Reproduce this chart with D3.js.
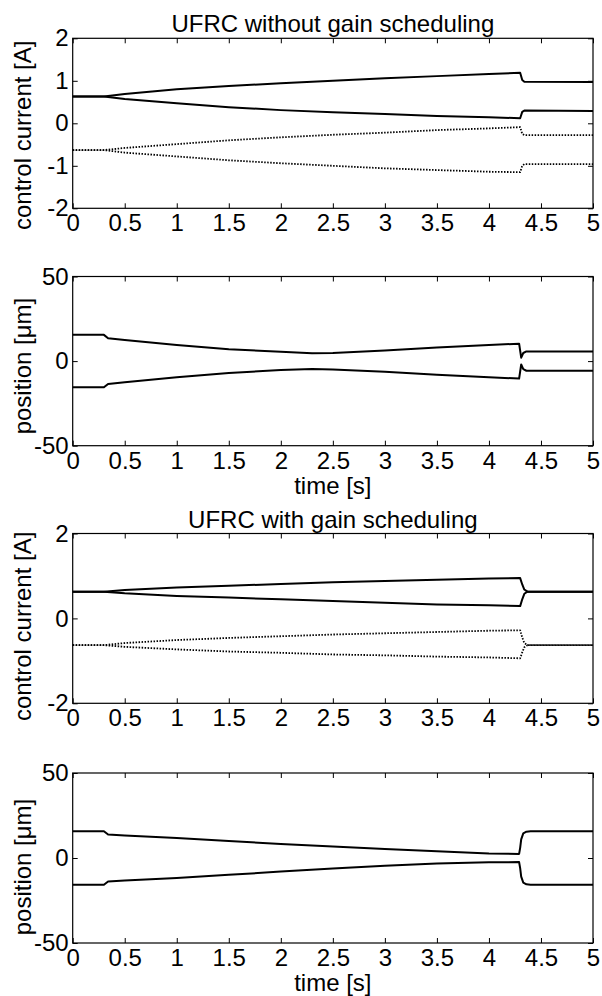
<!DOCTYPE html>
<html>
<head>
<meta charset="utf-8">
<script src="https://cdn.jsdelivr.net/npm/d3@7"></script>
<style>
  html, body { margin: 0; padding: 0; background: white; }
  svg { display: block; }
</style>
</head>
<body>
<div id="chart"></div>
<script>

var
  // tick labels shared by every panel
  TIME_TICKS = [0, 0.5, 1, 1.5, 2, 2.5, 3, 3.5, 4, 4.5, 5],
  CURRENT_TICKS_FINE = [-2, -1, 0, 1, 2],
  CURRENT_TICKS_COARSE = [-2, 0, 2],
  POSITION_TICKS = [-50, 0, 50],

  // panel 1: UFRC without gain scheduling, control currents [A]
  TIME_1 = [0, 0.3, 0.5, 1, 1.5, 2, 2.5, 3, 3.5, 4, 4.3, 4.32, 4.34, 5],
  CURRENT_1_A = [0.63, 0.63, 0.69, 0.80, 0.88, 0.94, 1.00, 1.06, 1.11, 1.16, 1.19, 1.02, 0.98, 0.97],
  CURRENT_1_B = [0.63, 0.63, 0.57, 0.47, 0.38, 0.31, 0.26, 0.22, 0.17, 0.14, 0.12, 0.27, 0.30, 0.29],
  CURRENT_1_C = [-0.63, -0.63, -0.58, -0.49, -0.40, -0.33, -0.27, -0.22, -0.16, -0.12, -0.09, -0.25, -0.28, -0.28],
  CURRENT_1_D = [-0.63, -0.63, -0.69, -0.78, -0.87, -0.94, -1.00, -1.06, -1.10, -1.14, -1.15, -1.00, -0.96, -0.96],

  // panel 2: UFRC without gain scheduling, position [um]
  TIME_2 = [0, 0.3, 0.34, 0.5, 1, 1.5, 2, 2.3, 2.5, 3, 3.5, 4, 4.29, 4.31, 4.33, 4.36, 5],
  POSITION_2_A = [15.5, 15.5, 13.5, 12.5, 9.5, 7, 5.5, 4.6, 4.8, 6.3, 8, 9.5, 10.3, 2.0, 4.8, 5.7, 5.7],
  POSITION_2_B = [-15.5, -15.5, -13.5, -12.5, -9.5, -7, -5.3, -4.6, -4.9, -6.3, -8, -9.6, -10.3, -2.0, -4.8, -5.7, -5.7],

  // panel 3: UFRC with gain scheduling, control currents [A]
  TIME_3 = [0, 0.3, 0.5, 1, 1.5, 2, 2.5, 3, 3.5, 4, 4.3, 4.32, 4.34, 4.37, 5],
  CURRENT_3_A = [0.63, 0.63, 0.67, 0.73, 0.77, 0.81, 0.85, 0.88, 0.91, 0.94, 0.95, 0.80, 0.68, 0.63, 0.63],
  CURRENT_3_B = [0.63, 0.63, 0.59, 0.53, 0.49, 0.45, 0.41, 0.37, 0.33, 0.31, 0.29, 0.45, 0.58, 0.63, 0.63],
  CURRENT_3_C = [-0.63, -0.63, -0.58, -0.51, -0.46, -0.42, -0.38, -0.35, -0.32, -0.29, -0.28, -0.45, -0.58, -0.63, -0.63],
  CURRENT_3_D = [-0.63, -0.63, -0.67, -0.73, -0.78, -0.81, -0.85, -0.87, -0.90, -0.92, -0.94, -0.80, -0.68, -0.63, -0.63],

  // panel 4: UFRC with gain scheduling, position [um]
  TIME_4 = [0, 0.3, 0.34, 0.5, 1, 1.5, 2, 2.5, 3, 3.5, 4, 4.29, 4.3, 4.31, 4.33, 4.36, 4.4, 5],
  POSITION_4_A = [15.7, 15.7, 13.8, 13.2, 11.8, 10, 8.2, 6.7, 5.3, 3.9, 2.6, 2.4, 6, 11, 14.5, 15.5, 15.7, 15.7],
  POSITION_4_B = [-15.7, -15.7, -13.8, -13.2, -11.8, -9.9, -8, -6.2, -4.6, -3.3, -2.5, -2.4, -6, -11, -14.5, -15.5, -15.7, -15.7];

var
  WIDTH = 602,
  HEIGHT = 996,
  FONT = "'Liberation Sans', Arial, Helvetica, sans-serif",
  FONT_SIZE = 24,

  // left and right edge of every axes box, in pixels
  PLOT_LEFT = 72.7,
  PLOT_RIGHT = 593,

  TICK_LENGTH = 5,
  LINE_WIDTH = 2,
  DOT_WIDTH = 1.8;

var panels = [
  {
    top: 38.3, bottom: 208.3,
    domain: [-2, 2], ticks: CURRENT_TICKS_FINE,
    title: "UFRC without gain scheduling",
    ylabel: "control current [A]", ylabelShift: 12,
    time: TIME_1,
    series: [
      { values: CURRENT_1_A, dotted: false },
      { values: CURRENT_1_B, dotted: false },
      { values: CURRENT_1_C, dotted: true },
      { values: CURRENT_1_D, dotted: true }
    ]
  },
  {
    top: 276.5, bottom: 445.7,
    domain: [-50, 50], ticks: POSITION_TICKS,
    xlabel: "time [s]",
    ylabel: "position [\u03bcm]", ylabelShift: 5,
    time: TIME_2,
    series: [
      { values: POSITION_2_A, dotted: false },
      { values: POSITION_2_B, dotted: false }
    ]
  },
  {
    top: 533.5, bottom: 703.3,
    domain: [-2, 2], ticks: CURRENT_TICKS_COARSE,
    title: "UFRC with gain scheduling",
    ylabel: "control current [A]", ylabelShift: 8,
    time: TIME_3,
    series: [
      { values: CURRENT_3_A, dotted: false },
      { values: CURRENT_3_B, dotted: false },
      { values: CURRENT_3_C, dotted: true },
      { values: CURRENT_3_D, dotted: true }
    ]
  },
  {
    top: 773, bottom: 943,
    domain: [-50, 50], ticks: POSITION_TICKS,
    xlabel: "time [s]",
    ylabel: "position [\u03bcm]", ylabelShift: 9,
    time: TIME_4,
    series: [
      { values: POSITION_4_A, dotted: false },
      { values: POSITION_4_B, dotted: false }
    ]
  }
];

// matlab style labels: plain hyphen, no trailing zeros
function formatTick(d){
  return String(d);
}

function styleAxis(g){
  g.select(".domain").remove();
  g.selectAll(".tick line").attr("stroke", "black").attr("stroke-width", 1);
  g.selectAll("text")
    .attr("fill", "black")
    .style("font-family", FONT)
    .style("font-size", FONT_SIZE + "px");
}

function drawPanel(svg, panel){
  var
    g = svg.append("g"),
    x = d3.scaleLinear().domain([0, 5]).range([PLOT_LEFT, PLOT_RIGHT]),
    y = d3.scaleLinear().domain(panel.domain).range([panel.bottom, panel.top]),
    middleX = (PLOT_LEFT + PLOT_RIGHT) / 2,
    middleY = (panel.top + panel.bottom) / 2;

  // inward ticks on all four sides, labels only bottom and left
  g.append("g")
    .attr("transform", "translate(0," + panel.bottom + ")")
    .call(d3.axisBottom(x).tickValues(TIME_TICKS).tickFormat(formatTick)
      .tickSize(-TICK_LENGTH).tickSizeOuter(0).tickPadding(6))
    .call(styleAxis);
  g.append("g")
    .attr("transform", "translate(0," + panel.top + ")")
    .call(d3.axisTop(x).tickValues(TIME_TICKS).tickFormat("")
      .tickSize(-TICK_LENGTH).tickSizeOuter(0))
    .call(styleAxis);
  g.append("g")
    .attr("transform", "translate(" + PLOT_LEFT + ",0)")
    .call(d3.axisLeft(y).tickValues(panel.ticks).tickFormat(formatTick)
      .tickSize(-TICK_LENGTH).tickSizeOuter(0).tickPadding(4))
    .call(styleAxis);
  g.append("g")
    .attr("transform", "translate(" + PLOT_RIGHT + ",0)")
    .call(d3.axisRight(y).tickValues(panel.ticks).tickFormat("")
      .tickSize(-TICK_LENGTH).tickSizeOuter(0))
    .call(styleAxis);

  g.append("rect")
    .attr("x", PLOT_LEFT)
    .attr("y", panel.top)
    .attr("width", PLOT_RIGHT - PLOT_LEFT)
    .attr("height", panel.bottom - panel.top)
    .attr("fill", "none")
    .attr("stroke", "black")
    .attr("stroke-width", 1.2);

  var line = d3.line()
    .x(function(d){ return x(d[0]); })
    .y(function(d){ return y(d[1]); });

  panel.series.forEach(function(s){
    var points = d3.zip(panel.time, s.values);
    g.append("path")
      .attr("d", line(points))
      .attr("fill", "none")
      .attr("stroke", "black")
      .attr("stroke-width", s.dotted ? DOT_WIDTH : LINE_WIDTH)
      .attr("stroke-dasharray", s.dotted ? "1.5,1.5" : null)
      .attr("stroke-linejoin", "round");
  });

  if (panel.title) {
    g.append("text")
      .attr("x", middleX)
      .attr("y", panel.top - 6)
      .attr("text-anchor", "middle")
      .text(panel.title);
  }
  if (panel.xlabel) {
    g.append("text")
      .attr("x", middleX)
      .attr("y", panel.bottom + 48)
      .attr("text-anchor", "middle")
      .text(panel.xlabel);
  }
  g.append("text")
    .attr("transform", "translate(31," + (middleY + panel.ylabelShift) + ") rotate(-90)")
    .attr("text-anchor", "middle")
    .text(panel.ylabel);

  g.selectAll(":scope > text")
    .attr("fill", "black")
    .style("font-family", FONT)
    .style("font-size", FONT_SIZE + "px");
}

var svg = d3.select("#chart").append("svg")
  .attr("width", WIDTH)
  .attr("height", HEIGHT);

svg.append("rect")
  .attr("width", WIDTH)
  .attr("height", HEIGHT)
  .attr("fill", "white");

panels.forEach(function(panel){
  drawPanel(svg, panel);
});

</script>
</body>
</html>
